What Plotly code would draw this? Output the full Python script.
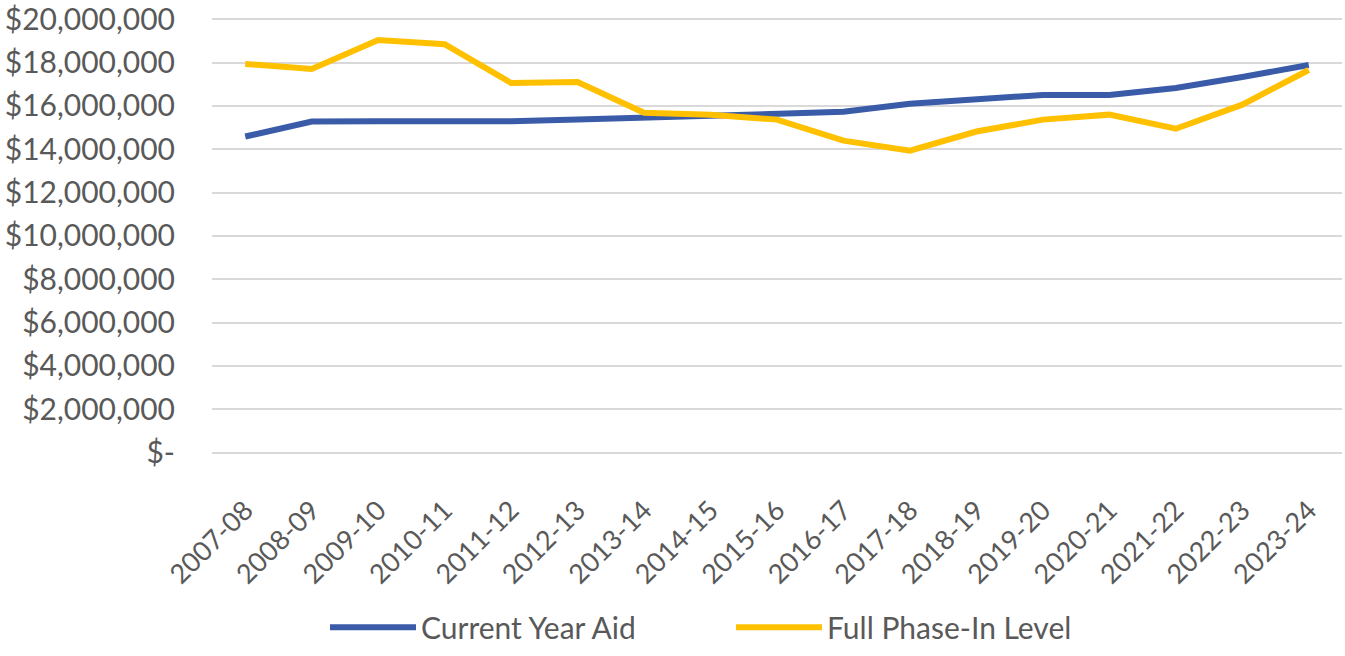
import plotly.graph_objects as go

years = ["2007-08", "2008-09", "2009-10", "2010-11", "2011-12", "2012-13", "2013-14",
         "2014-15", "2015-16", "2016-17", "2017-18", "2018-19", "2019-20", "2020-21",
         "2021-22", "2022-23", "2023-24"]
current_year_aid = [14590000, 15280000, 15300000, 15300000, 15300000, 15370000, 15460000,
                    15550000, 15640000, 15730000, 16100000, 16330000, 16510000, 16510000,
                    16830000, 17340000, 17890000]
full_phase_in = [17940000, 17710000, 19040000, 18850000, 17060000, 17110000, 15690000,
                 15600000, 15370000, 14400000, 13940000, 14820000, 15370000, 15600000,
                 14950000, 16060000, 17660000]
tick_vals = [0, 2000000, 4000000, 6000000, 8000000, 10000000, 12000000, 14000000,
             16000000, 18000000, 20000000]
tick_text = ["$-", "$2,000,000", "$4,000,000", "$6,000,000", "$8,000,000", "$10,000,000",
             "$12,000,000", "$14,000,000", "$16,000,000", "$18,000,000", "$20,000,000"]

FONT = "Lato"
fig = go.Figure()
fig.add_trace(go.Scatter(x=years, y=current_year_aid, mode="lines", name="Current Year Aid",
                         line=dict(color="#3A5BA8", width=6)))
fig.add_trace(go.Scatter(x=years, y=full_phase_in, mode="lines", name="Full Phase-In Level",
                         line=dict(color="#FFC000", width=6)))

fig.update_layout(
    width=1345, height=656,
    margin=dict(l=212, r=3, t=18, b=199),
    paper_bgcolor="white", plot_bgcolor="white",
    font=dict(family=FONT, color="#595959", size=28),
    showlegend=True,
    legend=dict(orientation="h", x=0.1, xanchor="left", y=-0.447, yanchor="bottom",
                font=dict(size=30, color="#595959"), itemwidth=86,
                entrywidth=305, entrywidthmode="pixels"),
    xaxis=dict(type="category", range=[-0.5, 16.5], tickangle=-45,
               showgrid=False, showline=False, zeroline=False, ticks="",
               ticklabelstandoff=31,
               tickfont=dict(size=27, color="#595959"), automargin=False),
    yaxis=dict(range=[-200000, 20060000], tickvals=tick_vals, ticktext=tick_text,
               showgrid=True, gridcolor="#D9D9D9", gridwidth=2, zeroline=False,
               showline=False, ticks="", ticklabelstandoff=36,
               ticklabeloverflow="allow",
               tickfont=dict(size=30, color="#595959"), automargin=False),
)
fig.write_html("out.html", config={"displayModeBar": False},
               post_script="document.body.style.margin='0';")
